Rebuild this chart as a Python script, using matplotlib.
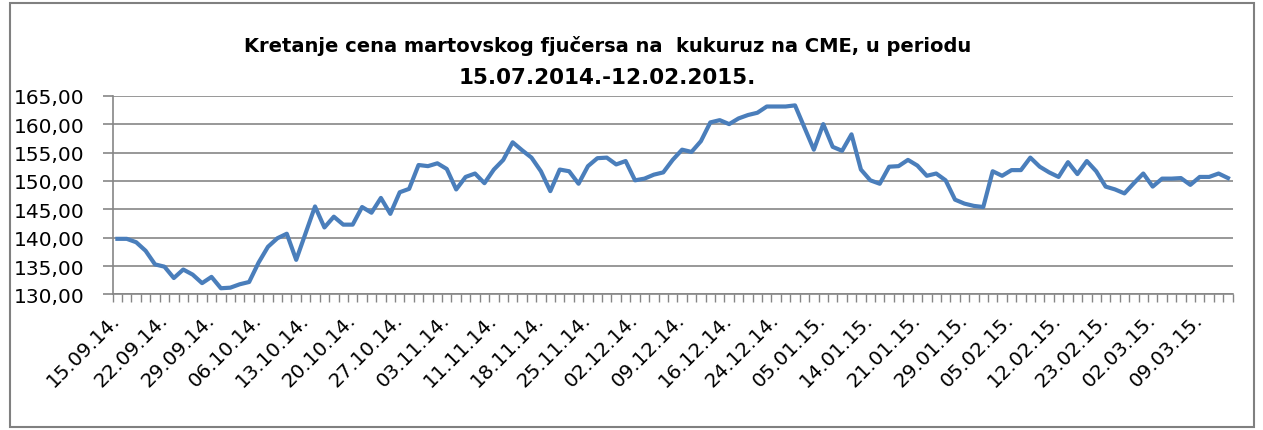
import numpy as np
import matplotlib
matplotlib.use('Agg')
import matplotlib.pyplot as plt
import matplotlib.transforms as mtrans
from matplotlib.ticker import FixedLocator, FuncFormatter

# cijene martovskog fjucersa (procitano sa grafika)
cena = [139.8, 139.8, 139.2, 137.7, 135.3, 134.9, 132.9, 134.4, 133.5, 132.0,
        133.1, 131.1, 131.2, 131.8, 132.2, 135.6, 138.4, 139.9, 140.7, 136.1,
        140.8, 145.5, 141.8, 143.7, 142.3, 142.3, 145.4, 144.4, 147.0, 144.2,
        148.0, 148.6, 152.8, 152.6, 153.1, 152.1, 148.5, 150.7, 151.3, 149.6,
        152.0, 153.7, 156.8, 155.4, 154.1, 151.7, 148.2, 152.0, 151.7, 149.5,
        152.6, 154.0, 154.1, 152.9, 153.5, 150.1, 150.4, 151.1, 151.5, 153.7,
        155.5, 155.1, 157.0, 160.3, 160.7, 160.0, 161.0, 161.6, 162.0, 163.1,
        163.1, 163.1, 163.3, 159.4, 155.5, 160.0, 156.0, 155.3, 158.2, 152.0,
        150.1, 149.5, 152.5, 152.6, 153.7, 152.7, 150.9, 151.3, 150.1, 146.7,
        146.0, 145.6, 145.4, 151.7, 150.9, 151.9, 151.9, 154.1, 152.5, 151.5,
        150.7, 153.3, 151.2, 153.5, 151.7, 149.0, 148.5, 147.8, 149.6, 151.3,
        149.0, 150.4, 150.4, 150.5, 149.3, 150.7, 150.7, 151.3, 150.5]

datumi = ['15.09.14.', '22.09.14.', '29.09.14.', '06.10.14.', '13.10.14.',
          '20.10.14.', '27.10.14.', '03.11.14.', '11.11.14.', '18.11.14.',
          '25.11.14.', '02.12.14.', '09.12.14.', '16.12.14.', '24.12.14.',
          '05.01.15.', '14.01.15.', '21.01.15.', '29.01.15.', '05.02.15.',
          '12.02.15.', '23.02.15.', '02.03.15.', '09.03.15.']
korak = 5  # labela na svakih 5 dana

naslov1 = 'Kretanje cena martovskog fjučersa na  kukuruz na CME, u periodu'
naslov2 = '15.07.2014.-12.02.2015.'

siva = '#868686'
plava = '#4a7ebb'

fig = plt.figure(figsize=(12.63, 4.31), dpi=100)
ax = fig.add_axes([0.0892, 0.3144, 0.976 - 0.0892, 0.7756 - 0.3144])

n = len(cena)
x = np.arange(n)
ax.plot(x, cena, color=plava, lw=3, solid_joinstyle='round', zorder=3)

ax.set_xlim(-0.5, n - 0.5)
ax.set_ylim(130, 165)
ax.set_yticks(np.arange(130, 166, 5))
ax.yaxis.set_major_formatter(FuncFormatter(lambda v, p: ('%.2f' % v).replace('.', ',')))
ax.grid(axis='y', color=siva, lw=1.2)
ax.set_axisbelow(True)

poz = [i * korak for i in range(len(datumi))]
ax.set_xticks(poz)
ax.set_xticklabels(datumi, rotation=45, ha='right', rotation_mode='anchor', fontsize=14.3)
ax.tick_params(axis='x', length=0, pad=11)
# malo ulijevo, kao u excelu
pomak = mtrans.ScaledTranslation(-7 / 100, 0, fig.dpi_scale_trans)
for lab in ax.get_xticklabels():
    lab.set_transform(lab.get_transform() + pomak)
ax.xaxis.set_minor_locator(FixedLocator(np.arange(-0.5, n, 1)))
ax.tick_params(axis='x', which='minor', length=6, color=siva, width=1)
ax.tick_params(axis='y', length=7, color=siva, width=1.2, pad=13, labelsize=14.5)

for s in ['top', 'right']:
    ax.spines[s].set_visible(False)
for s in ['left', 'bottom']:
    ax.spines[s].set_color(siva)
    ax.spines[s].set_linewidth(1.2)

fig.text(0.481, 1 - 46 / 431, naslov1, ha='center', va='center', fontsize=14, fontweight='bold')
fig.text(0.4805, 1 - 78 / 431, naslov2, ha='center', va='center', fontsize=15.5, fontweight='bold')

# okvir oko cijelog grafika
fig.patches.append(plt.Rectangle((10 / 1263, 3 / 431), 1244 / 1263, 424 / 431,
                                 transform=fig.transFigure, fill=False,
                                 edgecolor='#808080', lw=1.5))

fig.savefig('out.png', dpi=100)
